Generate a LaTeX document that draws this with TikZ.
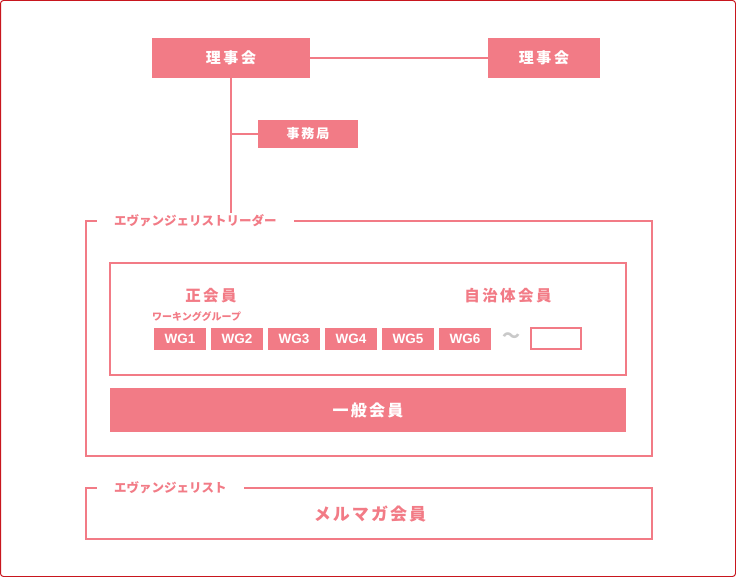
\documentclass[tikz,border=0pt]{standalone}
\usepackage{fontspec}
\usepackage{tikz}
\usetikzlibrary{positioning}
\newfontfamily\jp{Noto Sans CJK JP}
\newfontfamily\lat{Liberation Sans}
\definecolor{rose}{HTML}{F27B86}
\definecolor{edge}{HTML}{C8161E}
\definecolor{tildegray}{HTML}{C9C9C9}
\newcommand{\jpsize}[2]{\jp\bfseries\fontsize{#1}{#1}\selectfont\addfontfeature{LetterSpace=#2}}

\begin{document}
\begin{tikzpicture}[x=1pt,y=-1pt,
		box/.style={fill=rose,text=white,inner sep=0pt,font=\jpsize{15}{18}},
		frame/.style={draw=rose,line width=2pt,inner sep=0pt},
		wg/.style={fill=rose,text=white,inner sep=0pt,minimum width=52pt,minimum height=22pt,font=\lat\bfseries\fontsize{13.5}{13.5}\selectfont},
		tag/.style={fill=white,text=rose,inner xsep=17pt,inner ysep=2pt,anchor=west,font=\jpsize{12.5}{0}},
		head/.style={text=rose,inner sep=0pt,font=\jpsize{15.5}{16}},
		link/.style={draw=rose,line width=2pt}]
		\useasboundingbox (0,0) rectangle (736,577);
		\draw[edge,line width=1pt,rounded corners=3pt] (0.5,0.5) rectangle (735.5,576.5);
		\node[box,minimum width=158pt,minimum height=40pt] (board) at (231,58) {理事会};
		\node[box,minimum width=112pt,minimum height=40pt] (board2) at (544,58) {理事会};
		\node[box,minimum width=100pt,minimum height=28pt,font=\jpsize{13}{15}] (office) at (308,134) {事務局};
		\node[frame,minimum width=566pt,minimum height=235pt] (leader) at (369,338.5) {};
		\node[frame,minimum width=516pt,minimum height=112pt] (member) at (368,319) {};
		\node[box,minimum width=516pt,minimum height=44pt,font=\jpsize{16}{14}] (general) at (368,410) {一般会員};
		\node[frame,minimum width=566pt,minimum height=51pt] (evangelist) at (369,513.5) {};
		\draw[link] (board.east) -- (board2.west);
		\draw[link] (board.south) -- (board.south |- leader.north);
		\draw[link] (board.south |- office.west) -- (office.west);
		\node[tag] (leadertag) at (97,221) {エヴァンジェリストリーダー};
		\node[tag] (evtag) at (97,488) {エヴァンジェリスト};
		\node[head] (regular) at (211,296) {正会員};
		\node[head] (local) at (508,296) {自治体会員};
		\node[text=rose,anchor=west,inner sep=0pt,font=\jpsize{10}{0}] (wglabel) at (152,317) {ワーキンググループ};
		\foreach \i in {1,...,6}
			\node[wg] (wg\i) at (123+57*\i,339) {WG\i};
		\node[text=tildegray,inner sep=0pt,font=\jp\bfseries\fontsize{18}{18}\selectfont] (tilde) at (511,338) {〜};
		\node[draw=rose,line width=1.5pt,minimum width=50pt,minimum height=21pt,inner sep=0pt] (blank) at (556,338.5) {};
		\node[text=rose,inner sep=0pt,font=\jpsize{17}{12}] (mailmag) at (370,514) {メルマガ会員};
	\end{tikzpicture}
\end{document}
